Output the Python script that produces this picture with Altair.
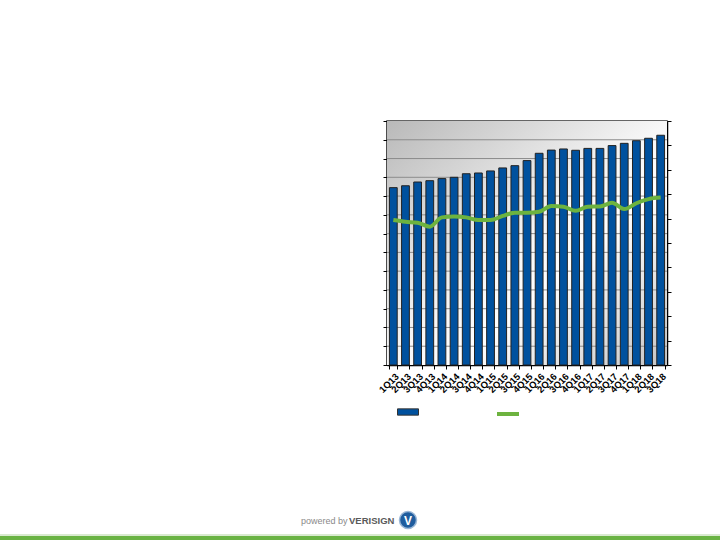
import altair as alt
import pandas as pd

quarters = ["1Q13", "2Q13", "3Q13", "4Q13", "1Q14", "2Q14", "3Q14", "4Q14",
            "1Q15", "2Q15", "3Q15", "4Q15", "1Q16", "2Q16", "3Q16", "4Q16",
            "1Q17", "2Q17", "3Q17", "4Q17", "1Q18", "2Q18", "3Q18"]
bar_values = [9.45, 9.55, 9.75, 9.82, 9.93, 10.0, 10.19, 10.23,
              10.34, 10.5, 10.62, 10.89, 11.28, 11.45, 11.51, 11.44,
              11.54, 11.54, 11.69, 11.81, 11.95, 12.08, 12.24]
line_values = [5.94, 5.87, 5.83, 5.67, 6.05, 6.09, 6.05, 5.94,
               5.94, 6.11, 6.24, 6.24, 6.28, 6.52, 6.49, 6.32,
               6.49, 6.50, 6.65, 6.39, 6.63, 6.80, 6.86]
left_ticks = list(range(0, 14))
right_ticks = list(range(0, 11))
grid_values = list(range(1, 13))

W, H = 280, 244
OX, OY = 387, 121

bars_df = pd.DataFrame({"q": quarters, "v": bar_values, "s": ["A"] * len(quarters)})
line_df = pd.DataFrame({"q": quarters, "v": line_values, "t": ["B"] * len(quarters)})
grid_df = pd.DataFrame({"g": grid_values})
one = pd.DataFrame({"k": [0]})

xscale = alt.Scale(domain=quarters, paddingInner=0.36, paddingOuter=0.2)
left_scale = alt.Scale(domain=[0, 13], nice=False, zero=True)
right_scale = alt.Scale(domain=[0, 10], nice=False, zero=True)

background = alt.Chart(one).mark_rect(
    color=alt.Gradient(
        gradient="linear", x1=0, y1=0, x2=1, y2=1,
        stops=[alt.GradientStop(offset=0, color="#b9b9b9"),
               alt.GradientStop(offset=0.5, color="#f7f7f7"),
               alt.GradientStop(offset=0.62, color="#ffffff"),
               alt.GradientStop(offset=1, color="#c4c4c4")]
    )
).encode(x=alt.value(0), x2=alt.value(W), y=alt.value(0), y2=alt.value(H))

grid = alt.Chart(grid_df).mark_rule(color="#8c8c8c", strokeWidth=1).encode(
    y=alt.Y("g:Q", scale=left_scale, axis=None)
)

bars = alt.Chart(bars_df).mark_bar(stroke="#222222", strokeWidth=1).encode(
    x=alt.X("q:N", scale=xscale, sort=quarters,
            axis=alt.Axis(title=None, labelAngle=-45, labelFontSize=9.5,
                          labelFontWeight="bold", labelColor="#000000",
                          labelFont="Liberation Sans", tickBand="extent",
                          domainColor="#000000", tickColor="#000000",
                          tickSize=4, domainWidth=1.5, labelPadding=2)),
    y=alt.Y("v:Q", scale=left_scale,
            axis=alt.Axis(title=None, labels=False, grid=False, values=left_ticks,
                          tickSize=4, tickColor="#000000", domainColor="#000000",
                          domainWidth=1.5)),
    fill=alt.Fill("s:N", scale=alt.Scale(range=["#00519e"]),
                  legend=alt.Legend(orient="none", legendX=10, legendY=280,
                                    title=None, labelExpr="''",
                                    symbolType="M-1,-0.3H1V0.3H-1Z",
                                    symbolSize=441, symbolStrokeColor="#333333",
                                    symbolStrokeWidth=1, symbolOpacity=1)),
)

line = alt.Chart(line_df).mark_line(interpolate="monotone", strokeWidth=4).encode(
    x=alt.X("q:N", scale=xscale, sort=quarters),
    y=alt.Y("v:Q", scale=right_scale,
            axis=alt.Axis(title=None, labels=False, grid=False, orient="right",
                          values=right_ticks, tickSize=4, tickColor="#000000",
                          domainColor="#000000", domainWidth=1.5)),
    stroke=alt.Stroke("t:N", scale=alt.Scale(range=["#6db33f"]),
                      legend=alt.Legend(orient="none", legendX=108, legendY=280,
                                        title=None, labelExpr="''",
                                        symbolType="stroke", symbolSize=484,
                                        symbolStrokeWidth=4)),
)

footer_bar = alt.Chart(one).mark_rect(color="#6ab343").encode(
    x=alt.value(-OX), x2=alt.value(720 - OX),
    y=alt.value(536 - OY), y2=alt.value(540 - OY))
footer_shade = alt.Chart(one).mark_rect(color="#d9ead0").encode(
    x=alt.value(-OX), x2=alt.value(720 - OX),
    y=alt.value(534 - OY), y2=alt.value(536 - OY))
powered = alt.Chart(one).mark_text(
    text="powered by", align="left", baseline="middle", fontSize=9,
    color="#8a8a8a", font="Liberation Sans").encode(
    x=alt.value(301 - OX), y=alt.value(521 - OY))
verisign = alt.Chart(one).mark_text(
    text="VERISIGN", align="left", baseline="middle", fontSize=9.5,
    fontWeight="bold", color="#5a5a5a", font="Liberation Sans").encode(
    x=alt.value(349 - OX), y=alt.value(521 - OY))
logo = alt.Chart(one).mark_point(
    shape="circle", filled=True, size=290, color="#1f5d9e", opacity=1,
    stroke="#9ab7d6", strokeWidth=1.5).encode(
    x=alt.value(408 - OX), y=alt.value(520 - OY))
logo_v = alt.Chart(one).mark_text(
    text="V", align="center", baseline="middle", fontSize=12,
    fontWeight="bold", color="#ffffff", font="Liberation Sans").encode(
    x=alt.value(408 - OX), y=alt.value(521 - OY))

chart = alt.layer(
    background, grid, bars, line,
    footer_shade, footer_bar, powered, verisign, logo, logo_v
).resolve_scale(
    y="independent"
).properties(
    width=W, height=H,
    autosize=alt.AutoSizeParams(type="none"),
    padding={"left": OX, "top": OY, "right": 720 - OX - W, "bottom": 540 - OY - H},
    background="#ffffff",
).configure_view(stroke="#333333", strokeWidth=1.5)

chart.save("out.html", embed_options={"renderer": "svg", "actions": False})
